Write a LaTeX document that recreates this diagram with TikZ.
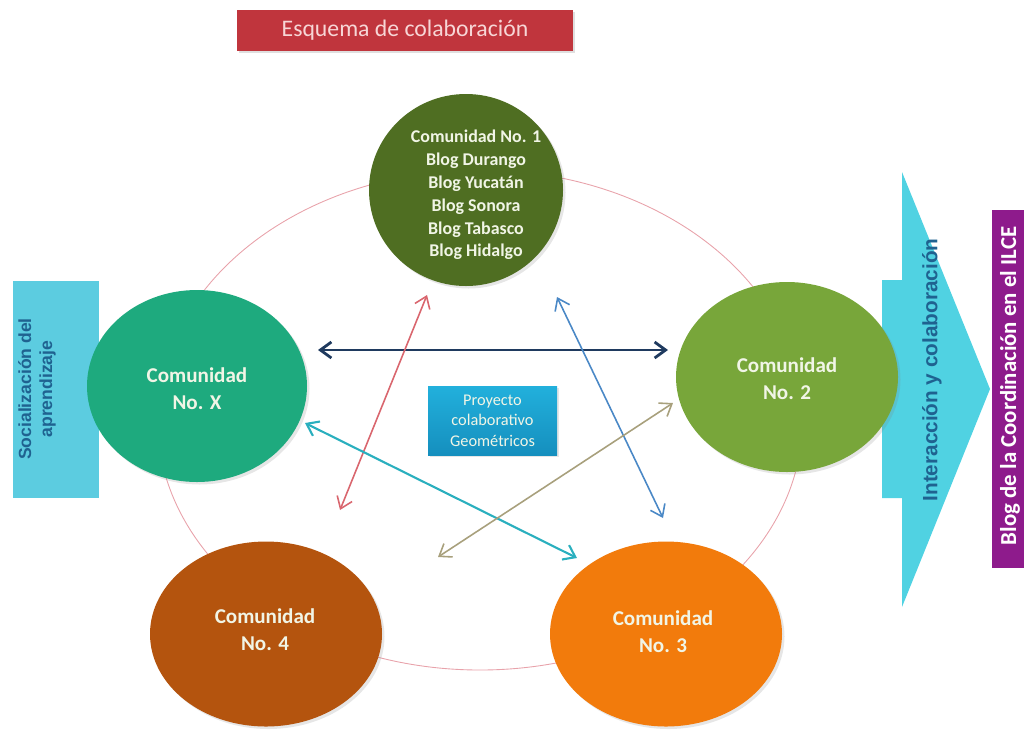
\documentclass[tikz,border=0pt]{standalone}
\usepackage{fontspec}
\setmainfont{Carlito}
\newfontfamily\arialfont{Liberation Sans}
\usepackage{xcolor}
\definecolor{esqTitle}{HTML}{C0353D}
\definecolor{esqTitleText}{HTML}{F7D6D6}
\definecolor{esqRing}{HTML}{E8A2AA}
\definecolor{esqDarkGreen}{HTML}{4F6E22}
\definecolor{esqTeal}{HTML}{1EAA7E}
\definecolor{esqLightGreen}{HTML}{78A63A}
\definecolor{esqBrown}{HTML}{B4540E}
\definecolor{esqOrange}{HTML}{F27B0C}
\definecolor{esqCyan}{HTML}{5CCCE0}
\definecolor{esqArrowCyan}{HTML}{50D2E2}
\definecolor{esqProject}{HTML}{1A9ECF}
\definecolor{esqProjectTop}{HTML}{22B0DC}
\definecolor{esqProjectBottom}{HTML}{158FBE}
\definecolor{esqPurple}{HTML}{8E1B8C}
\definecolor{esqNavy}{HTML}{1F3A5F}
\definecolor{esqRed}{HTML}{D9666E}
\definecolor{esqBlue}{HTML}{4A88C6}
\definecolor{esqArrowTeal}{HTML}{2AAFBE}
\definecolor{esqTan}{HTML}{A8A07C}
\definecolor{esqDarkText}{HTML}{1F6290}
\definecolor{esqLightText}{HTML}{F1F5E6}
\usetikzlibrary{shapes.geometric, arrows.meta, shadows}

\tikzset{
  comunidad/.style={ellipse, inner sep=0pt, draw=none,
    drop shadow={opacity=0.2, shadow xshift=0.05cm, shadow yshift=-0.05cm}},
  comtexto/.style={align=center, text=esqLightText, font=\bfseries\fontsize{12}{15.3}\selectfont},
  flecha/.style={{Straight Barb[length=2.2mm, width=3.2mm]}-{Straight Barb[length=2.2mm, width=3.2mm]}, line width=0.9pt}
}

\begin{document}
\begin{tikzpicture}
  \useasboundingbox (0,0) rectangle (20.56,-14.6);
  % anillo de fondo
  \draw[esqRing, line width=0.5pt] (9.6,-8.4) ellipse [x radius=6.45, y radius=5.0];

  % titulo
  \node[fill=esqTitle, minimum width=6.72cm, minimum height=0.82cm, inner sep=0pt,
        text=esqTitleText, font=\fontsize{13.5}{16}\selectfont,
        drop shadow={opacity=0.25, shadow xshift=0.04cm, shadow yshift=-0.04cm}] (titulo) at (8.10,-0.60) {Esquema de colaboración};

  % caja izquierda
  \node[fill=esqCyan, minimum width=1.72cm, minimum height=4.34cm, inner sep=0pt] (social) at (1.12,-7.79) {};
  \node[rotate=90, align=center, text=esqDarkText, font=\arialfont\bfseries\fontsize{10}{12}\selectfont] (socialtxt) at (0.74,-7.78) {Socialización del\\aprendizaje};

  % flecha grande derecha
  \fill[esqArrowCyan] (17.64,-5.60) -- (18.04,-5.60) -- (18.04,-3.44) -- (19.80,-7.78)
    -- (18.04,-12.14) -- (18.04,-9.96) -- (17.64,-9.96) -- cycle;
  \node[rotate=90, text=esqDarkText, font=\arialfont\bfseries\fontsize{11.8}{14}\selectfont] (interaccion) at (18.64,-7.40) {Interacción y colaboración};

  % caja morada
  \node[fill=esqPurple, minimum width=0.64cm, minimum height=7.16cm, inner sep=0pt] (blog) at (20.16,-7.78) {};
  \node[rotate=90, text=white, font=\bfseries\fontsize{13}{15}\selectfont] (blogtxt) at (20.20,-7.72) {Blog de la Coordinación en el ILCE};

  % comunidades
  \node[comunidad, fill=esqDarkGreen, minimum width=3.88cm, minimum height=3.84cm] (c1) at (9.32,-3.80) {};
  \node[comunidad, fill=esqTeal, minimum width=4.40cm, minimum height=3.84cm] (cx) at (3.94,-7.72) {};
  \node[comunidad, fill=esqLightGreen, minimum width=4.44cm, minimum height=3.80cm] (c2) at (15.74,-7.54) {};
  \node[comunidad, fill=esqBrown, minimum width=4.64cm, minimum height=3.70cm] (c4) at (5.32,-12.68) {};
  \node[comunidad, fill=esqOrange, minimum width=4.64cm, minimum height=3.70cm] (c3) at (13.32,-12.68) {};

  \node[comtexto, font=\bfseries\fontsize{10.2}{13}\selectfont, text=esqLightText] (c1txt) at (9.52,-3.90)
    {Comunidad No. 1\\Blog Durango\\Blog Yucatán\\Blog Sonora\\Blog Tabasco\\Blog Hidalgo};
  \node[comtexto] (cxtxt) at (3.94,-7.77) {Comunidad\\No. X};
  \node[comtexto] (c2txt) at (15.74,-7.58) {Comunidad\\No. 2};
  \node[comtexto] (c4txt) at (5.30,-12.60) {Comunidad\\No. 4};
  \node[comtexto] (c3txt) at (13.26,-12.64) {Comunidad\\No. 3};

  % proyecto
  \node[top color=esqProjectTop, bottom color=esqProjectBottom, minimum width=2.58cm, minimum height=1.38cm, inner sep=0pt, align=center,
        text=esqLightText, font=\fontsize{9.3}{11.6}\selectfont,
        drop shadow={opacity=0.2, shadow xshift=0.03cm, shadow yshift=-0.03cm}] (proyecto) at (9.85,-8.41)
    {Proyecto\\colaborativo\\Geométricos};

  % extremos de las flechas
  \coordinate (navyA) at (6.36,-7.00);
  \coordinate (navyB) at (13.36,-7.00);
  \coordinate (redA) at (8.54,-5.90);
  \coordinate (redB) at (6.80,-10.20);
  \coordinate (blueA) at (11.14,-5.94);
  \coordinate (blueB) at (13.26,-10.36);
  \coordinate (tealA) at (6.10,-8.46);
  \coordinate (tealB) at (11.54,-11.16);
  \coordinate (tanA) at (13.46,-8.06);
  \coordinate (tanB) at (8.76,-11.14);

  \draw[flecha, esqNavy, line width=1.6pt] (navyA) -- (navyB);
  \draw[flecha, esqRed] (redA) -- (redB);
  \draw[flecha, esqBlue] (blueA) -- (blueB);
  \draw[flecha, esqArrowTeal, line width=1.2pt] (tealA) -- (tealB);
  \draw[flecha, esqTan] (tanA) -- (tanB);
\end{tikzpicture}
\end{document}
